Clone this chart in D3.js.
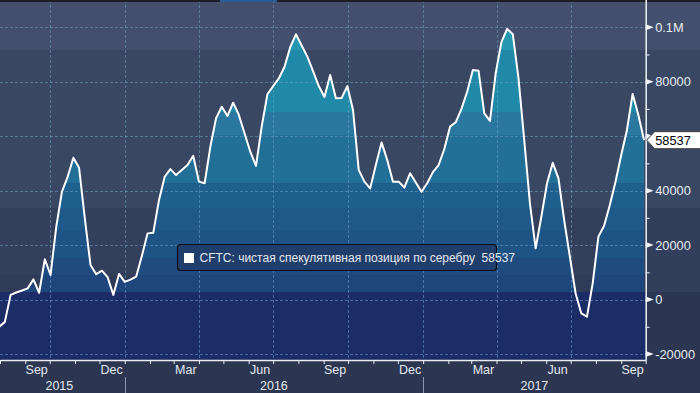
<!DOCTYPE html>
<html><head><meta charset="utf-8">
<script src="https://cdn.jsdelivr.net/npm/d3@7"></script>
<style>
body{margin:0;background:#2c3650;overflow:hidden}
text{font-family:"Liberation Sans",Arial,sans-serif}
</style>
</head><body>
<svg id="c" width="700" height="393"></svg>
<script>
// ---- data ----
const firstReportDate = "2015-07-31";   // weekly CFTC reports
const netPosition = [
 -10000,-8200,1700,2600,3300,4100,7400,2500,14800,9000,
 26700,39600,45100,52100,48400,29900,12700,9300,10600,8200,
 1700,9400,6500,7300,8400,16000,24300,24500,36500,45100,
 47900,45700,47600,49400,52800,43300,42700,56100,66600,70800,
 67400,72300,67800,61000,54300,49100,63500,75400,78400,81200,
 85500,92700,97400,93300,89200,83900,78400,74400,82500,73900,
 74000,78400,69600,47600,43300,40800,49400,57700,51200,43300,
 43300,41100,46400,43000,39600,42700,46800,49400,55300,63500,
 65100,70000,76300,84300,84000,68400,65600,83100,94500,99400,
 97400,81200,58600,35300,18800,30400,42700,50200,44500,29200,
 15700,2300,-5100,-6300,6000,23100,27100,34700,43300,53100,
 62300,75500,67800,58537
];
const yTickValues = [-20000, 0, 20000, 40000, 60000, 80000, 100000];
// the 60000 label is hidden behind the last-value tag in the original
const yTickLabels = ["-20000", "0", "20000", "40000", "", "80000", "0.1M"];
const monthLabels = ["Sep", "Dec", "Mar", "Jun", "Sep", "Dec", "Mar", "Jun", "Sep"];
const monthLabelDates = ["2015-09-15","2015-12-16","2016-03-16","2016-06-15","2016-09-15","2016-12-16","2017-03-16","2017-06-15","2017-09-15"];
const yearLabels = ["2015", "2016", "2017"];
const seriesName = "CFTC: чистая спекулятивная позиция по серебру";
const lastValueLabel = "58537";

// ---- layout ----
const W = 700, H = 393, plotR = 645.7, plotB = 360;
const parse = d3.utcParse("%Y-%m-%d");
const t0 = parse(firstReportDate);
const dates = netPosition.map((v, i) => d3.utcDay.offset(t0, 7 * i));
const data = dates.map((d, i) => ({date: d, value: netPosition[i]}));

const x = d3.scaleUtc().domain([parse("2015-08-01"), parse("2017-10-01")]).range([0, plotR]);
const y = d3.scaleLinear().domain([-20000, 100000]).range([354, 27.25]);

const svg = d3.select("#c");

// outer background bands
const outerBands = [[0,50,"#434f6c"],[50,208,"#3a4763"],[208,292,"#333e5a"],[292,393,"#2c3650"]];
svg.selectAll("rect.ob").data(outerBands).join("rect")
  .attr("x",0).attr("y",d=>d[0]).attr("width",W).attr("height",d=>d[1]-d[0]).attr("fill",d=>d[2]);

// plot background bands
const bgBands = [[0,50,"#434f6c"],[50,208,"#3a4763"],[208,275,"#333f5b"],[275,292,"#303b57"],[292,360,"#1b2c67"]];
svg.selectAll("rect.bg").data(bgBands).join("rect")
  .attr("x",0).attr("y",d=>d[0]).attr("width",plotR).attr("height",d=>d[1]-d[0]).attr("fill",d=>d[2]);

// area with banded fill
const area = d3.area().x(d=>x(d.date)).y0(plotB).y1(d=>y(d.value));
svg.append("clipPath").attr("id","ac").append("path").attr("d", area(data));
const areaBands = [[0,50,"#2597b1"],[50,112,"#2189a8"],[112,135,"#2a78a0"],[135,183,"#226f98"],[183,208,"#1f5f8d"],[208,230,"#1e5989"],[230,258,"#1e5385"],[258,275,"#1e4c81"],[275,292,"#1e467d"],[292,360,"#1b2c67"]];
svg.append("g").attr("clip-path","url(#ac)").selectAll("rect").data(areaBands).join("rect")
  .attr("x",0).attr("y",d=>d[0]).attr("width",plotR).attr("height",d=>d[1]-d[0]).attr("fill",d=>d[2]);

// grid
const grid = svg.append("g").attr("stroke","rgba(110,160,195,0.55)").attr("stroke-width",1).attr("stroke-dasharray","3,2");
grid.selectAll("line.h").data(yTickValues).join("line")
  .attr("x1",0).attr("x2",plotR).attr("y1",d=>Math.round(y(d))+0.5).attr("y2",d=>Math.round(y(d))+0.5);
const qTicks = d3.utcMonth.every(3).range(x.domain()[0], x.domain()[1]).filter(d=>d.getUTCMonth()%3===0);
grid.selectAll("line.v").data(qTicks).join("line")
  .attr("x1",d=>Math.round(x(d))+0.5).attr("x2",d=>Math.round(x(d))+0.5).attr("y1",0).attr("y2",plotB);

// top strip
svg.append("rect").attr("x",0).attr("y",0).attr("width",W).attr("height",2).attr("fill","#1d1f24");
svg.append("rect").attr("x",220).attr("y",0).attr("width",57).attr("height",2).attr("fill","#2a5d98");

// line
svg.append("path").datum(data).attr("fill","none").attr("stroke","#fff").attr("stroke-width",2)
  .attr("stroke-linejoin","round").attr("d", d3.line().x(d=>x(d.date)).y(d=>y(d.value)));

// bottom axis
const xAxis = d3.axisBottom(x).ticks(d3.utcMonth.every(1)).tickFormat("").tickSize(4).tickSizeOuter(0);
const gx = svg.append("g").attr("transform",`translate(0,${plotB})`).call(xAxis);
gx.select(".domain").attr("stroke","#e8edf3").attr("stroke-width",1.5);
gx.selectAll(".tick line").attr("stroke","#e8edf3");
svg.selectAll("text.m").data(monthLabels).join("text")
  .attr("x",(d,i)=>x(parse(monthLabelDates[i]))).attr("y",374)
  .attr("text-anchor","middle").attr("font-size",12.5).attr("fill","#e3e9f1").text(d=>d);
// year separators + labels
const yearStarts = [parse("2016-01-01"), parse("2017-01-01")];
svg.selectAll("line.ys").data(yearStarts).join("line")
  .attr("x1",d=>Math.round(x(d))+0.5).attr("x2",d=>Math.round(x(d))+0.5).attr("y1",377).attr("y2",H)
  .attr("stroke","#8c95a8").attr("stroke-width",1);
const yb = [0, x(yearStarts[0]), x(yearStarts[1]), plotR];
svg.selectAll("text.yr").data(yearLabels).join("text")
  .attr("x",(d,i)=>(yb[i]+yb[i+1])/2 - (i===0?3:0)).attr("y",390)
  .attr("text-anchor","middle").attr("font-size",12.5).attr("fill","#e3e9f1").text(d=>d);

// right axis
const minorTicks = d3.range(-20000, 100001, 10000);
const yAxis = d3.axisRight(y).tickValues(minorTicks).tickFormat("").tickSize(4).tickSizeOuter(0);
const gy = svg.append("g").attr("transform",`translate(${plotR},0)`).call(yAxis);
gy.select(".domain").attr("d",`M0.5,0V${plotB}`).attr("stroke","#f0f3f7").attr("stroke-width",1.5);
gy.selectAll(".tick line").attr("stroke","#f0f3f7");
svg.selectAll("path.arr").data(yTickValues).join("path")
  .attr("d",d=>{const yy=y(d);return `M${plotR},${yy-3}L${plotR+8},${yy}L${plotR},${yy+3}Z`;})
  .attr("fill","#f0f3f7");
svg.selectAll("text.yl").data(yTickLabels.filter(l=>l!=="")).join("text")
  .attr("x",plotR+9.5).attr("y",d=>y(yTickValues[yTickLabels.indexOf(d)])).attr("dy","0.36em")
  .attr("font-size",12.8).attr("fill","#e6ecf3").text(d=>d);

// last value tag
const ly = y(netPosition[netPosition.length-1]);
svg.append("path").attr("d",`M${plotR+1},${ly}L${plotR+9},${ly-8.5}H${W+2}V${ly+8.5}H${plotR+9}Z`)
  .attr("fill","#ffffff").attr("stroke","#444").attr("stroke-width",1);
svg.append("text").attr("x",plotR+9.5).attr("y",ly).attr("dy","0.36em")
  .attr("font-size",12.8).attr("fill","#000").text(lastValueLabel);

// legend
const lg = svg.append("g");
lg.append("rect").attr("x",177.5).attr("y",244.5).attr("width",319).attr("height",26).attr("rx",3)
  .attr("fill","#203e6b").attr("stroke","#0b0d12").attr("stroke-width",1.2);
lg.append("rect").attr("x",184).attr("y",253).attr("width",10).attr("height",10).attr("fill","#ffffff");
lg.append("text").attr("x",199.5).attr("y",262).attr("font-size",12).attr("fill","#e3e9f1")
  .text(seriesName + "\u00a0\u00a0" + lastValueLabel);
</script>
</body></html>
